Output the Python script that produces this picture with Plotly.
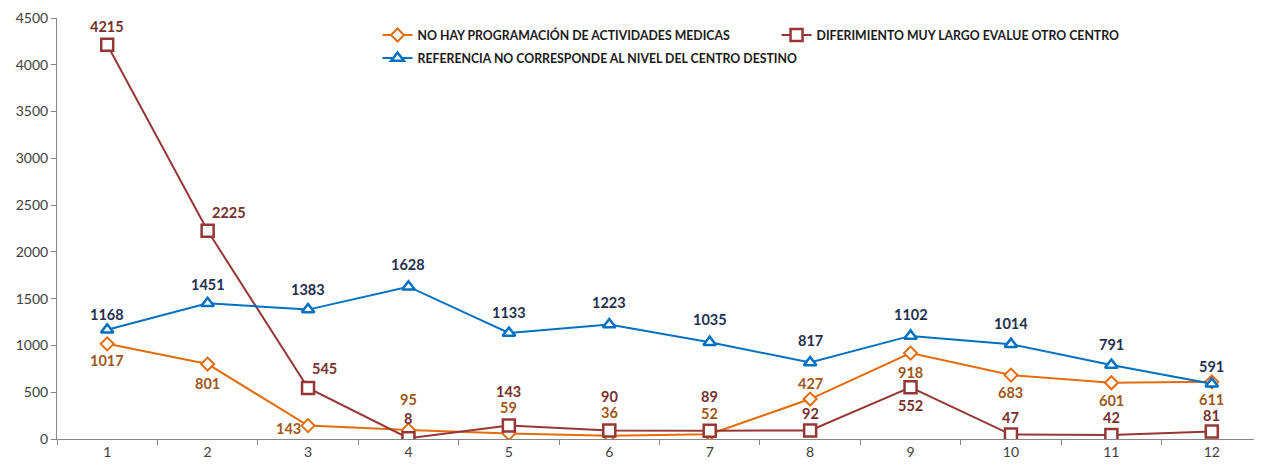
import plotly.graph_objects as go

months = [1, 2, 3, 4, 5, 6, 7, 8, 9, 10, 11, 12]
no_hay = [1017, 801, 143, 95, 59, 36, 52, 427, 918, 683, 601, 611]
diferimiento = [4215, 2225, 545, 8, 143, 90, 89, 92, 552, 47, 42, 81]
referencia = [1168, 1451, 1383, 1628, 1133, 1223, 1035, 817, 1102, 1014, 791, 591]

names = [
    "NO HAY PROGRAMACIÓN DE ACTIVIDADES MEDICAS",
    "DIFERIMIENTO MUY LARGO EVALUE OTRO CENTRO",
    "REFERENCIA NO CORRESPONDE AL NIVEL DEL CENTRO DESTINO",
]

# label pixel offsets (style only): (dx, dy) with dy positive = downward
off_no_hay = [(0, 17), (0, 19), (-20, 3), (0, -31), (0, -26), (0, -23), (0, -21), (0, -16), (0, 19), (0, 17), (0, 18), (0, 18)]
off_dif = [(0, -18), (21, -18), (16, -20), (0, -20), (0, -34), (0, -34), (0, -34), (0, -17), (0, 18), (0, -17), (0, -18), (0, -16)]
off_ref = [(0, -15), (0, -19), (0, -20), (0, -22), (0, -21), (0, -22), (0, -23), (0, -22), (0, -21), (0, -21), (0, -21), (0, -17)]

c_orange = "#E46C0A"
c_red = "#953735"
c_blue = "#0070C0"
t_orange = "#A0571A"
t_red = "#77302E"
t_blue = "#1F3050"
FONT = "Lato, 'Open Sans', sans-serif"

fig = go.Figure()
series = [
    (no_hay, names[0], c_orange, "diamond", 10, 2.0, "legend"),
    (diferimiento, names[1], c_red, "square", 12, 2.5, "legend"),
    (referencia, names[2], c_blue, "triangle-up", 11, 2.5, "legend2"),
]
for vals, nm, col, sym, sz, lw, lg in series:
    fig.add_trace(go.Scatter(
        x=months, y=vals, name=nm, mode="lines+markers", legend=lg,
        line=dict(color=col, width=2),
        marker=dict(symbol=sym, size=sz, color="white", line=dict(color=col, width=lw)),
    ))

for vals, offs, tc in [(no_hay, off_no_hay, t_orange), (diferimiento, off_dif, t_red), (referencia, off_ref, t_blue)]:
    for xv, yv, (dx, dy) in zip(months, vals, offs):
        fig.add_annotation(
            x=xv, y=yv, text=f"<b>{yv}</b>", showarrow=False,
            xshift=dx, yshift=-dy, borderpad=0,
            font=dict(family=FONT, size=14.5, color=tc),
        )

legend_common = dict(
    orientation="h", xanchor="left", yanchor="middle",
    font=dict(size=12.3, color="#1a1a1a", family=FONT, weight="bold"),
    bgcolor="rgba(0,0,0,0)", itemwidth=30,
)

fig.update_layout(
    width=1254, height=461,
    margin=dict(l=49, r=0, t=10, b=30),
    paper_bgcolor="white", plot_bgcolor="white",
    font=dict(family=FONT, size=14, color="#404040"),
    showlegend=True,
    legend=dict(x=0.266, y=0.9596, entrywidth=354, entrywidthmode="pixels", **legend_common),
    legend2=dict(x=0.266, y=0.905, **legend_common),
    xaxis=dict(
        range=[0.5, 12.5], tickvals=months, ticktext=[str(m) for m in months],
        ticks="", showgrid=False, zeroline=False,
        showline=True, linecolor="#868686", linewidth=1,
        minor=dict(tickvals=[m + 0.5 for m in range(0, 13)], ticks="outside", ticklen=5, tickcolor="#868686"),
        tickfont=dict(size=14, color="#404040"),
    ),
    yaxis=dict(
        range=[0, 4500], dtick=500, ticks="outside", ticklen=5, tickcolor="#868686",
        showgrid=False, zeroline=False, showline=True, linecolor="#868686", linewidth=1,
        tickfont=dict(size=14, color="#404040"),
    ),
)

fig.write_html("out.html")
